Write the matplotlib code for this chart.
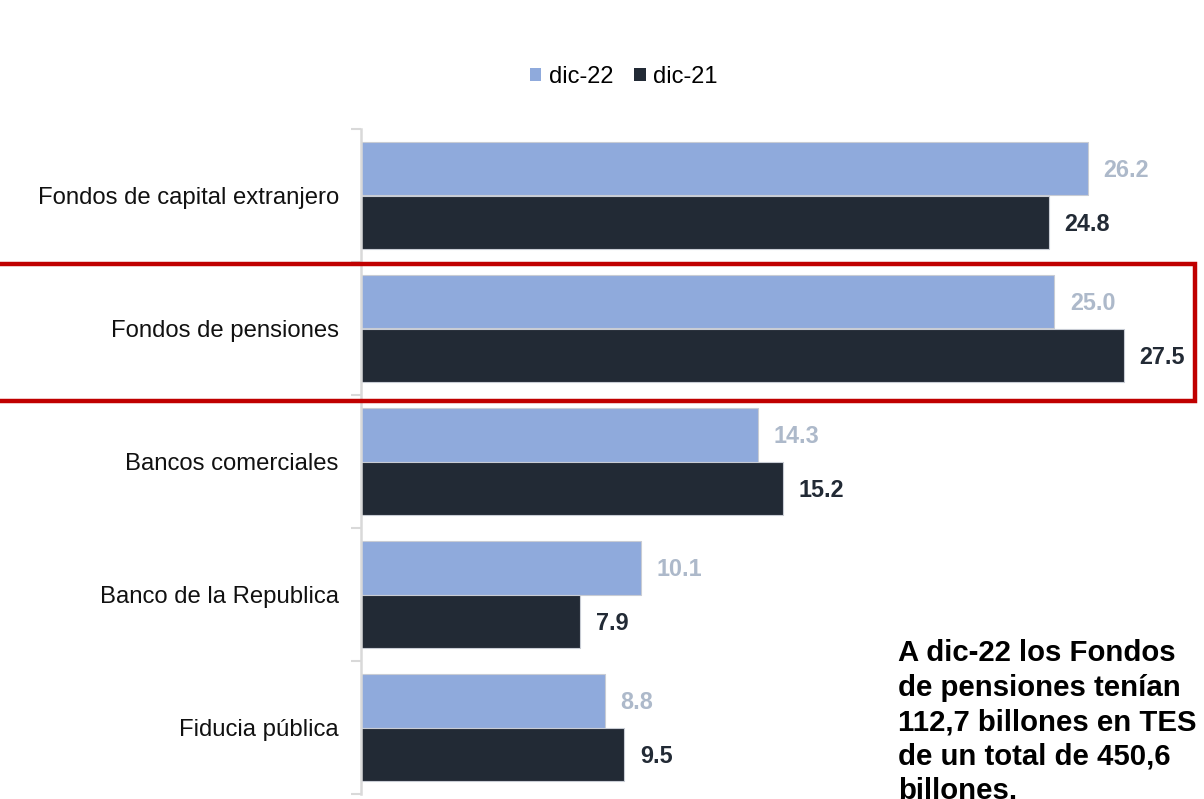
import matplotlib

matplotlib.use("Agg")
import matplotlib.pyplot as plt
import numpy as np
from matplotlib.patches import Patch, Rectangle

# TES holdings by investor type (billones)
CATEGORIES = [
    "Fondos de capital extranjero",
    "Fondos de pensiones",
    "Bancos comerciales",
    "Banco de la Republica",
    "Fiducia pública",
]
DIC_22 = [26.2, 25.0, 14.3, 10.1, 8.8]
DIC_21 = [24.8, 27.5, 15.2, 7.9, 9.5]
SERIES_LABELS = ["dic-22", "dic-21"]

LIGHT = "#8FAADC"
DARK = "#222A35"
LIGHT_TXT = "#ADB9CA"
HIGHLIGHT = "#C00000"

NOTE = (
    "A dic-22 los Fondos\n"
    "de pensiones tenían\n"
    "112,7 billones en TES\n"
    "de un total de 450,6\n"
    "billones."
)

plt.rcParams.update(
    {
        "font.family": ["Liberation Sans", "DejaVu Sans"],
    }
)

W, H = 1204, 799
fig = plt.figure(figsize=(W / 100, H / 100), dpi=100)
ax = fig.add_axes([361 / W, 5 / H, (1193 - 361) / W, (794 - 129) / H])

y = np.arange(len(CATEGORIES))
bh = 0.4
ax.barh(y - bh / 2, DIC_22, height=bh, color=LIGHT, edgecolor="#C8CCD4", linewidth=0.8,
        label=SERIES_LABELS[0])
ax.barh(y + bh / 2, DIC_21, height=bh, color=DARK, edgecolor="#C8CCD4", linewidth=0.8,
        label=SERIES_LABELS[1])

for yi, v in zip(y, DIC_22):
    ax.text(v + 0.56, yi - bh / 2 + 0.015, f"{v:.1f}", va="center", ha="left",
            fontsize=16.8, fontweight="bold", color=LIGHT_TXT)
for yi, v in zip(y, DIC_21):
    ax.text(v + 0.56, yi + bh / 2 + 0.015, f"{v:.1f}", va="center", ha="left",
            fontsize=16.8, fontweight="bold", color=DARK)

ax.set_xlim(0, 30)
ax.set_ylim(len(CATEGORIES) - 0.5, -0.5)
ax.set_xticks([])
ax.set_yticks(y)
ax.set_yticklabels(CATEGORIES, fontsize=17.2, color="#111111")
ax.set_yticks(np.arange(len(CATEGORIES) + 1) - 0.5, minor=True)
ax.tick_params(axis="y", which="major", length=0, pad=16)
ax.tick_params(axis="y", which="minor", length=7, width=1.5, color="#D9D9D9")
for side in ("top", "right", "bottom"):
    ax.spines[side].set_visible(False)
ax.spines["left"].set_color("#D9D9D9")
ax.spines["left"].set_linewidth(1.8)

# highlight box around the pension funds row
fig.add_artist(Rectangle((-4 / W, 1 - 401 / H), 1199 / W, 137 / H,
                         transform=fig.transFigure, fill=False,
                         edgecolor=HIGHLIGHT, linewidth=3.2, zorder=5))

handles = [Patch(facecolor=LIGHT), Patch(facecolor=DARK)]
fig.legend(handles, SERIES_LABELS, loc="center", bbox_to_anchor=(0.518, 1 - 77 / H),
           ncols=2, frameon=False, fontsize=17, handlelength=0.5, handleheight=0.5,
           handletextpad=0.3, columnspacing=0.9)

fig.text(898 / W, 1 - 639 / H, NOTE, ha="left", va="top", fontsize=21.2,
         fontweight="bold", color="black", linespacing=1.3)

fig.savefig("out.png", dpi=100)
